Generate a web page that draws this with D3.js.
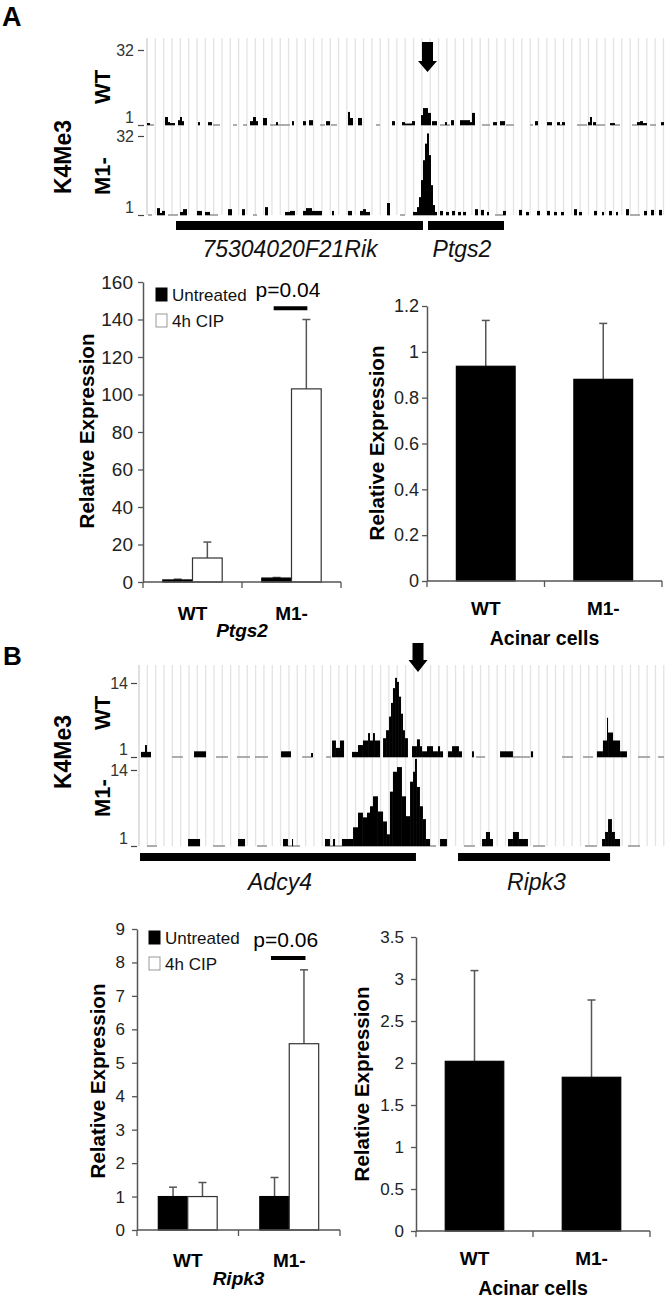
<!DOCTYPE html>
<html><head><meta charset="utf-8">
<script src="https://cdn.jsdelivr.net/npm/d3@7"></script>
<style>body{margin:0;background:#fff}svg{display:block}</style>
</head><body><svg id="fig" width="672" height="1302"></svg>
<script>
// ================= DATA =================
// ChIP-seq K4Me3 tracks: [start kb, end kb, signal]
const trackAWT = [
 [0,0.3,1.8],[0.3,0.7,1],[1.8,2.1,4.3],[2.1,2.3,2.2],[2.3,2.8,1.8],[3.1,3.3,3],[3.3,3.5,4.3],[3.5,3.7,2.6],
 [5.1,5.3,2.2],[6.1,6.5,2.2],[6.6,7.3,1],[8.6,9.0,1],[9.6,10.0,1],[10.3,10.6,2.6],[10.6,10.9,4.3],[10.9,11.1,2.6],
 [11.6,12.0,3.9],[12.3,14.3,1],[12.9,13.1,2.2],[14.5,14.7,2.6],[15.6,15.9,2.6],[16.2,16.6,3],
 [17.3,17.8,1],[17.9,18.3,2.6],[18.4,19,1],[20.1,20.3,6.4],[20.3,20.6,3.9],[21.1,21.5,3.9],[22.9,23.3,1],
 [24.5,24.8,2.6],[25.5,25.8,2.2],[25.8,26.5,1.6],[26.5,26.8,2.6],[27.4,27.6,5.1],[27.6,28.1,8],[28.1,28.4,6],
 [28.5,29,2.6],[29.3,30.3,1],[29.8,30,2.2],[30.4,30.7,3],[31.3,32.3,3],[32.3,32.5,2.2],[32.5,32.8,6],
 [33.5,34.3,1],[34.6,35,2.2],[35.3,35.8,2.6],[35.9,36.7,1],[38.3,38.6,1],[38.8,39.1,2.6],[40,40.5,2.2],
 [41,41.3,2.2],[41.3,41.5,1],[41.5,41.8,2.2],[43,44,1],[44.1,44.3,2.2],[44.3,44.5,4.3],[44.6,44.9,2.2],[44.9,45.8,1],
 [46.3,46.8,1.8],[46.8,47.3,1],[48.5,49,1],[49,49.3,2.2],[49.3,49.6,2.6],[49.6,50,1.8],[50.3,50.9,1],[51.4,51.7,2.2]
];
const trackAM1 = [
 [0.1,0.5,1],[1,1.3,3.7],[1.3,1.5,1.8],[1.5,1.8,2.6],[2.1,3.1,1],[3.3,3.6,2.2],[3.6,4,3.3],
 [5,5.5,2.6],[5.8,6.3,2.2],[6.3,7.1,1],[8.1,8.5,3.3],[9.5,9.8,3.3],[10.6,11,1],[11.8,12.1,4.1],
 [13.8,14.3,2.2],[14.3,14.8,2.6],[15.6,15.9,2.6],[15.9,16.5,3.7],[16.5,17.5,2.6],[18.5,18.7,2.6],
 [20.1,20.5,2.6],[21.3,21.6,2.6],[21.6,21.9,3.3],[21.9,22.3,2.2],[24,24.3,5.7],[25.3,25.8,1],
 [26.6,27,2.2],[27,27.2,4.1],[27.2,27.4,8],[27.4,27.6,14.7],[27.6,27.8,22.5],[27.8,28,29],[28,28.2,33],
 [28.2,28.4,24.5],[28.4,28.6,12.7],[28.6,28.8,4.9],[28.8,29,2.2],
 [29.3,29.6,2.6],[29.9,30.2,2.2],[30.5,30.8,2.6],[31.1,31.4,2.2],[31.6,31.9,2.2],
 [32.8,33.1,3.3],[33.4,33.7,3],[34,34.2,2.2],[34.8,35.6,1],[35.6,35.9,2.6],
 [37.2,37.5,3],[37.9,38.2,2.2],[39,39.3,2.6],[40,40.3,2.6],[40.7,41,2.2],[41.4,41.7,2.2],
 [42.7,43,3.3],[43.2,43.5,2.2],[44.7,45,2.6],[45.5,45.7,2.2],[46.2,46.5,2.6],[46.9,47.1,2.2],
 [47.9,48.2,3.3],[48.3,49.3,1],[49.7,50,2.6],[50.4,50.7,3],[51.2,51.5,3]
];
const trackBWT = [
 [0.13,0.8,1.9],[0.4,0.53,3.1],[2.2,2.93,1],[3.67,4.47,2],[5.13,5.93,1],[6.53,7.4,1],[7.73,8.6,1],
 [9.47,10.13,2],[10.87,11.53,1],[11.47,11.6,1.7],[12.47,12.8,1],
 [12.87,13.13,3.9],[13.13,13.4,2.6],[13.4,13.67,3.9],
 [14.2,14.6,1.9],[14.6,14.93,3.1],[14.93,15.27,3.9],[15.27,15.4,5.2],[15.4,15.6,3.9],[15.6,15.73,5.2],[15.73,16.07,3.9],
 [16.27,16.47,4.3],[16.47,16.67,5.7],[16.67,16.8,8.1],[16.8,16.93,10.5],[16.93,17.07,13.1],[17.07,17.2,14.9],
 [17.2,17.33,14.2],[17.33,17.47,11.6],[17.47,17.6,8.6],[17.6,17.73,5.7],[17.73,17.93,4.3],
 [18.2,18.53,2.9],[18.53,18.73,4.1],[18.73,18.87,2.9],[18.87,19.2,2],[19.2,19.6,2.9],[19.6,19.93,2],
 [19.93,20.07,2.9],[20.07,20.27,2],[20.6,20.87,2],[20.87,21.33,2.9],[21.33,21.53,2],[22.2,22.33,2],
 [22.47,23.07,1],[24.07,24.93,2],[24.93,26.07,1],[26.13,26.27,2],[28.2,28.93,1],[29.6,30.27,1],
 [30.53,30.93,2],[30.93,31.2,3.9],[31.2,31.27,7.9],[31.27,31.6,5.3],[31.6,32.07,3.9],[32.07,32.53,2],
 [33.27,34.07,1],[34.6,35,1]
];
const trackBM1 = [
 [0.53,1.2,1],[3.27,4.07,2.2],[4.93,5.73,1],[6.6,7.07,2.2],[7.87,8.53,1],
 [9.6,9.93,2.2],[9.93,10.73,1],[10.2,10.27,2.2],[12.4,12.73,2.2],[12.73,13.53,1],[12.93,13.07,2.2],
 [13.53,14.27,2.2],[14.27,14.6,4.2],[14.6,14.93,6.7],[14.93,15.2,5.9],[15.2,15.4,6.7],[15.4,15.6,7.8],
 [15.6,15.93,9.5],[15.93,16.27,6.9],[16.27,16.53,5.2],[16.53,16.73,3],[16.73,16.93,10.3],[16.93,17.2,13.7],
 [17.2,17.53,14.5],[17.53,17.8,9.5],[17.8,18.07,6.1],[18.07,18.27,12],[18.27,18.4,13.7],[18.4,18.53,15.9],
 [18.53,18.73,11.1],[18.73,18.93,7.8],[18.93,19.13,5.6],[19.13,19.4,2.2],[19.4,19.8,1],[20.07,20.53,2.2],
 [21.67,22.4,1],[22.87,23.13,2.2],[23.13,23.4,3.4],[23.4,23.6,2.2],
 [24.6,24.93,2.2],[24.93,25.33,3.4],[25.33,25.93,2.2],[26.27,27.07,1],[29.73,30.53,1],
 [30.87,31.07,2.2],[31.07,31.27,3.4],[31.27,31.53,5.6],[31.53,31.73,3.4],[31.73,32.07,2.2],[32.6,33.4,1]
];
const trackATicks = [1, 32];
const trackBTicks = [1, 14];
const genesA = [{name:"75304020F21Rik", start:2.8, end:27.7, label:14.3},{name:"Ptgs2", start:28.0, end:35.8, label:31.5}];
const genesB = [{name:"Adcy4", start:0, end:18.53, label:9.4},{name:"Ripk3", start:21.2, end:31.47, label:26.5}];
const arrowA = 28.05, arrowB = 18.6;

// qPCR bar charts
const groups = ["WT", "M1-"];
const seriesNames = ["Untreated", "4h CIP"];
const ptgs2Untreated = [1.1, 2.1], ptgs2UntreatedErr = [0.4, 0.3];
const ptgs2CIP = [12.8, 103], ptgs2CIPErr = [8.5, 37];
const ptgs2Ticks = [0,20,40,60,80,100,120,140,160];
const ptgs2P = {group:"M1-", y:146, label:"p=0.04"};
const acinarA = [0.937, 0.88], acinarAErr = [0.2, 0.244];
const acinarATicks = [0,0.2,0.4,0.6,0.8,1,1.2];
const ripk3Untreated = [1, 1], ripk3UntreatedErr = [0.28, 0.57];
const ripk3CIP = [1, 5.57], ripk3CIPErr = [0.42, 2.21];
const ripk3Ticks = [0,1,2,3,4,5,6,7,8,9];
const ripk3P = {group:"M1-", y:8.13, label:"p=0.06"};
const acinarB = [2.02, 1.83], acinarBErr = [1.08, 0.92];
const acinarBTicks = [0,0.5,1,1.5,2,2.5,3,3.5];

// ================= DRAW =================
const FONT = '"Liberation Sans", Arial, Helvetica, sans-serif';
const svg = d3.select('#fig').attr('font-family', FONT);
svg.append('rect').attr('width',672).attr('height',1302).attr('fill','#fff');

function txt(x, y, s, o={}) {
  const t = svg.append('text').attr('x', x).attr('y', y).text(s)
    .attr('font-size', o.size||16).attr('fill', o.fill||'#000')
    .attr('text-anchor', o.anchor||'start');
  if (o.bold) t.attr('font-weight','bold');
  if (o.italic) t.attr('font-style','italic');
  if (o.rotate) t.attr('transform', `rotate(-90,${x},${y})`).attr('dy','0.35em');
  return t;
}

function trackPanel(o) {
  const g = svg.append('g');
  const x = o.x;
  const [rx0, rx1] = x.range();
  const gridX = d3.range(rx0, rx1 + 0.5, 8.33);
  g.append('g').selectAll('line').data(gridX).join('line')
    .attr('x1', d=>d).attr('x2', d=>d).attr('y1', o.gridTop).attr('y2', o.gridBottom)
    .attr('stroke', (d,i)=> i===0 ? '#cfcfcf' : '#e3e3e3').attr('stroke-width', 1.3);
  o.tracks.forEach(t => {
    const y = t.y, base = y(1);
    g.append('g').selectAll('line').data(t.segs).join('line')
      .attr('x1', d=>x(d[0])).attr('x2', d=>x(d[1])).attr('y1', base).attr('y2', base)
      .attr('stroke', '#999').attr('stroke-width', 1.6);
    g.append('g').selectAll('rect').data(t.segs.filter(d=>d[2]>1)).join('rect')
      .attr('x', d=>x(d[0])).attr('width', d=>Math.max(0.8, x(d[1])-x(d[0])))
      .attr('y', d=>y(d[2])).attr('height', d=>base - y(d[2])).attr('fill', '#000');
    const axg = g.append('g').attr('transform', `translate(${rx0 - o.axOff},0)`)
      .call(d3.axisLeft(y).tickValues(t.ticks).tickSize(6).tickPadding(o.axPad));
    axg.select('.domain').remove();
    axg.selectAll('line').attr('stroke', '#444').attr('stroke-width', 1.2);
    axg.selectAll('text').attr('font-size', 16).attr('fill', '#333').attr('font-family', FONT);
    axg.selectAll('.tick').filter(d=>d===1).select('text').attr('dy', '-0.15em');
  });
  g.append('g').selectAll('rect').data(o.genes).join('rect')
    .attr('x', d=>x(d.start)+1).attr('width', d=>x(d.end)-x(d.start)-2)
    .attr('y', o.geneY).attr('height', o.geneH).attr('fill', '#000');
  g.append('g').selectAll('text').data(o.genes).join('text')
    .attr('x', d=>x(d.label)).attr('y', o.geneLabelY).attr('text-anchor','middle')
    .attr('font-style','italic').attr('font-size', 23).attr('fill','#111').text(d=>d.name);
  const ax = x(o.arrow), a = o.arrowGeom;
  g.append('path').attr('fill', '#000').attr('d',
    `M${ax-5.5},${a[0]}L${ax+5.5},${a[0]}L${ax+5.5},${a[1]}L${ax+9.5},${a[1]}L${ax},${a[2]}L${ax-9.5},${a[1]}L${ax-5.5},${a[1]}Z`);
}

// Panel A tracks
trackPanel({
  x: d3.scaleLinear().domain([0, 52]).range([147, 667]),
  gridTop: 38, gridBottom: 215, axOff: 3, axPad: 4,
  tracks: [
    {segs: trackAWT, ticks: trackATicks, y: d3.scaleLinear().domain([1,32]).range([125, 50])},
    {segs: trackAM1, ticks: trackATicks, y: d3.scaleLinear().domain([1,32]).range([215, 136])}
  ],
  genes: genesA, geneY: 221, geneH: 9, geneLabelY: 257,
  arrow: arrowA, arrowGeom: [42, 61, 72]
});
// Panel B tracks
trackPanel({
  x: d3.scaleLinear().domain([0, 35]).range([139, 664]),
  gridTop: 665, gridBottom: 846, axOff: 2, axPad: 3,
  tracks: [
    {segs: trackBWT, ticks: trackBTicks, y: d3.scaleLinear().domain([1,14]).range([757, 683])},
    {segs: trackBM1, ticks: trackBTicks, y: d3.scaleLinear().domain([1,14]).range([846, 770])}
  ],
  genes: genesB, geneY: 853, geneH: 8, geneLabelY: 890,
  arrow: arrowB, arrowGeom: [643, 660, 672]
});

// Panel letters & track labels
txt(2, 26, 'A', {size: 27, bold: true});
txt(3, 665, 'B', {size: 26, bold: true});
txt(63, 157, 'K4Me3', {size: 23, bold: true, rotate: true, anchor: 'middle'});
txt(102, 87, 'WT', {size: 22, bold: true, rotate: true, anchor: 'middle'});
txt(102, 176, 'M1-', {size: 22, bold: true, rotate: true, anchor: 'middle'});
txt(63, 752, 'K4Me3', {size: 23, bold: true, rotate: true, anchor: 'middle'});
txt(102, 713, 'WT', {size: 22, bold: true, rotate: true, anchor: 'middle'});
txt(102, 798, 'M1-', {size: 22, bold: true, rotate: true, anchor: 'middle'});

function barChart(o) {
  const x = d3.scaleBand().domain(groups).range([o.left, o.right]).paddingInner(0).paddingOuter(0);
  const y = d3.scaleLinear().domain([0, o.max]).range([o.bottom, o.top]);
  const bw = x.bandwidth();
  const g = svg.append('g');
  const bars = [];
  o.series.forEach((s, si) => groups.forEach((gr, i) => bars.push({
    g: gr, v: s.values[i], e: s.errs[i], fill: s.fill,
    x0: x(gr) + bw * (o.offset + si * o.width), w: bw * o.width
  })));
  // error bars
  const eg = g.append('g').attr('stroke', '#555').attr('stroke-width', 1.5);
  eg.selectAll('line.v').data(bars).join('line')
    .attr('x1', d=>d.x0+d.w/2).attr('x2', d=>d.x0+d.w/2).attr('y1', d=>y(d.v)).attr('y2', d=>y(d.v+d.e));
  eg.selectAll('line.c').data(bars).join('line')
    .attr('x1', d=>d.x0+d.w/2-4).attr('x2', d=>d.x0+d.w/2+4).attr('y1', d=>y(d.v+d.e)).attr('y2', d=>y(d.v+d.e));
  g.append('g').selectAll('rect').data(bars).join('rect')
    .attr('x', d=>d.x0).attr('width', d=>d.w).attr('y', d=>y(d.v)).attr('height', d=>y(0)-y(d.v))
    .attr('fill', d=>d.fill).attr('stroke', d=>d.fill==='#fff' ? '#333' : '#000').attr('stroke-width', 1.2);
  // y axis
  const yg = g.append('g').attr('transform', `translate(${o.left},0)`)
    .call(d3.axisLeft(y).tickValues(o.ticks).tickSize(5).tickSizeOuter(0).tickPadding(o.pad).tickFormat(d=>String(d)));
  yg.select('.domain').attr('stroke', '#555').attr('stroke-width', 1.5);
  yg.selectAll('line').attr('stroke', '#555').attr('stroke-width', 1.3);
  yg.selectAll('text').attr('font-size', o.font).attr('fill', '#222').attr('font-family', FONT);
  // x axis
  g.append('line').attr('x1', o.left).attr('x2', o.right).attr('y1', y(0)).attr('y2', y(0))
    .attr('stroke', '#555').attr('stroke-width', 1.5);
  g.append('g').selectAll('line').data(d3.range(groups.length + 1)).join('line')
    .attr('x1', i=>o.left + i*x.step()).attr('x2', i=>o.left + i*x.step())
    .attr('y1', y(0)).attr('y2', y(0)+6).attr('stroke', '#555').attr('stroke-width', 1.3);
  g.append('g').selectAll('text').data(groups).join('text')
    .attr('x', d=>x(d)+bw/2).attr('y', y(0)+o.catDy).attr('text-anchor','middle')
    .attr('font-weight','bold').attr('font-size', 19).text(d=>d);
  txt((o.left+o.right)/2, o.subY, o.sub, {size: o.subSize, bold: true, italic: o.subItalic, anchor: 'middle'});
  txt(o.ylabX, o.ylabY, 'Relative Expression', {size: 20.5, bold: true, rotate: true, anchor: 'middle'});
  if (o.legend) {
    const L = o.legend;
    o.series.forEach((s, si) => {
      g.append('rect').attr('x', L.x).attr('y', L.y + si*L.dy).attr('width', 11).attr('height', 13)
        .attr('fill', s.fill).attr('stroke', s.fill==='#fff' ? '#999' : '#000').attr('stroke-width', 1);
      txt(L.x + 16, L.y + si*L.dy + 13, seriesNames[si], {size: 17, fill: '#111'});
    });
  }
  if (o.p) {
    const cx = x(o.p.group);
    g.append('line').attr('x1', cx + bw*0.32).attr('x2', cx + bw*0.66)
      .attr('y1', y(o.p.y)).attr('y2', y(o.p.y)).attr('stroke', '#000').attr('stroke-width', 4);
    txt(cx + bw*0.465, y(o.p.y) - 11, o.p.label, {size: 21, anchor: 'middle'});
  }
}

barChart({left:143, right:341, bottom:582, top:282, max:160, ticks:ptgs2Ticks, font:19, pad:5,
  offset:0.2, width:0.3, catDy:38, sub:'Ptgs2', subItalic:true, subSize:19, subY:637,
  ylabX:87, ylabY:431,
  series:[{values:ptgs2Untreated, errs:ptgs2UntreatedErr, fill:'#000'},{values:ptgs2CIP, errs:ptgs2CIPErr, fill:'#fff'}],
  legend:{x:156, y:288, dy:26}, p: ptgs2P});
barChart({left:427, right:662, bottom:581, top:306, max:1.2, ticks:acinarATicks, font:18, pad:3,
  offset:0.25, width:0.5, catDy:34, sub:'Acinar cells', subItalic:false, subSize:19.5, subY:645,
  ylabX:377, ylabY:443,
  series:[{values:acinarA, errs:acinarAErr, fill:'#000'}]});
barChart({left:137, right:340, bottom:1230, top:929, max:9, ticks:ripk3Ticks, font:17, pad:7,
  offset:0.21, width:0.29, catDy:37, sub:'Ripk3', subItalic:true, subSize:19, subY:1285,
  ylabX:98, ylabY:1081,
  series:[{values:ripk3Untreated, errs:ripk3UntreatedErr, fill:'#000'},{values:ripk3CIP, errs:ripk3CIPErr, fill:'#fff'}],
  legend:{x:149, y:931, dy:26}, p: ripk3P});
barChart({left:416, right:650, bottom:1231, top:937, max:3.5, ticks:acinarBTicks, font:17, pad:7,
  offset:0.25, width:0.5, catDy:34, sub:'Acinar cells', subItalic:false, subSize:19.5, subY:1295,
  ylabX:362, ylabY:1084,
  series:[{values:acinarB, errs:acinarBErr, fill:'#000'}]});
</script>
</body></html>
